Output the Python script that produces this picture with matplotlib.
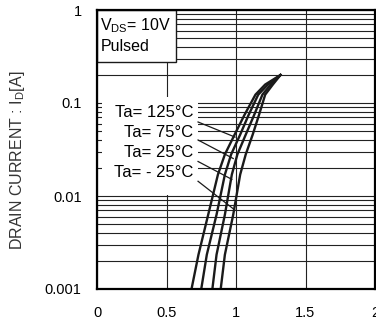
import numpy as np
import matplotlib.pyplot as plt
from matplotlib.patches import Rectangle

plt.rcParams['font.family'] = ['Liberation Sans', 'DejaVu Sans']
plt.rcParams['mathtext.default'] = 'regular'

# drain current levels (A) and gate voltage (V)
current = [0.001, 0.00234, 0.0063, 0.017, 0.028, 0.0457, 0.074, 0.123, 0.158, 0.2]
vgs_125 = [0.68, 0.73, 0.80, 0.87, 0.92, 0.99, 1.06, 1.14, 1.21, 1.32]
vgs_75 = [0.75, 0.79, 0.86, 0.92, 0.965, 1.03, 1.09, 1.16, 1.23, 1.32]
vgs_25 = [0.83, 0.86, 0.92, 0.97, 1.01, 1.07, 1.13, 1.19, 1.25, 1.32]
vgs_m25 = [0.89, 0.92, 0.98, 1.03, 1.07, 1.12, 1.165, 1.21, 1.265, 1.32]

labels = ['Ta= 125°C', 'Ta= 75°C', 'Ta= 25°C', 'Ta= - 25°C']
label_y = [0.080, 0.0476, 0.029, 0.0177]
# leader lines: (x0, y0, x1, y1)
leaders = [(0.727, 0.0625, 0.993, 0.043),
           (0.727, 0.040, 0.98, 0.0253),
           (0.727, 0.0235, 0.97, 0.0151),
           (0.727, 0.0144, 0.99, 0.0071)]

fig = plt.figure(figsize=(3.76, 3.29), dpi=100)
ax = fig.add_axes([97/376, 40/329, 278/376, 279/329])

ax.set_yscale('log')
ax.set_xlim(0, 2)
ax.set_ylim(0.001, 1)
ax.set_xticks([0, 0.5, 1, 1.5, 2])
ax.set_xticklabels(['0', '0.5', '1', '1.5', '2'])
ax.set_yticks([0.001, 0.01, 0.1, 1])
ax.set_yticklabels(['0.001', '0.01', '0.1', '1'])
ax.tick_params(axis='both', which='both', length=0, labelsize=10.5)
ax.tick_params(axis='x', pad=12)
ax.tick_params(axis='y', pad=11)
ax.grid(True, which='major', color='#222222', lw=0.8)
ax.grid(True, which='minor', axis='y', color='#222222', lw=0.8)
ax.set_axisbelow(True)
for s in ax.spines.values():
    s.set_linewidth(1.6)
    s.set_zorder(10)

for v in [vgs_125, vgs_75, vgs_25, vgs_m25]:
    ax.plot(v, current, color='#1a1a1a', lw=1.7, zorder=5,
            solid_joinstyle='round')

# white area behind the temperature labels
ax.add_patch(Rectangle((0.018, 0.337), 0.345, 0.351, transform=ax.transAxes,
                       facecolor='white', edgecolor='none', zorder=1))
for t, y in zip(labels, label_y):
    ax.text(0.695, y, t, ha='right', va='center', fontsize=12, zorder=6)
for x0, y0, x1, y1 in leaders:
    ax.plot([x0, x1], [y0, y1], color='#1a1a1a', lw=0.9, zorder=6)

# condition box
ax.add_patch(Rectangle((0, 0.814), 0.284, 0.186, transform=ax.transAxes,
                       facecolor='white', edgecolor='#1a1a1a', lw=1.0, zorder=7))
ax.text(0.012, 0.945, 'V$_{DS}$= 10V', transform=ax.transAxes, fontsize=11.5,
        va='center', zorder=8)
ax.text(0.012, 0.868, 'Pulsed', transform=ax.transAxes, fontsize=11.5,
        va='center', zorder=8)

ax.set_ylabel('DRAIN CURRENT : I$_D$[A]', fontsize=11.5, color='#333333')
ax.yaxis.set_label_coords(-0.25, 0.46)

fig.savefig('out.png', dpi=100)
